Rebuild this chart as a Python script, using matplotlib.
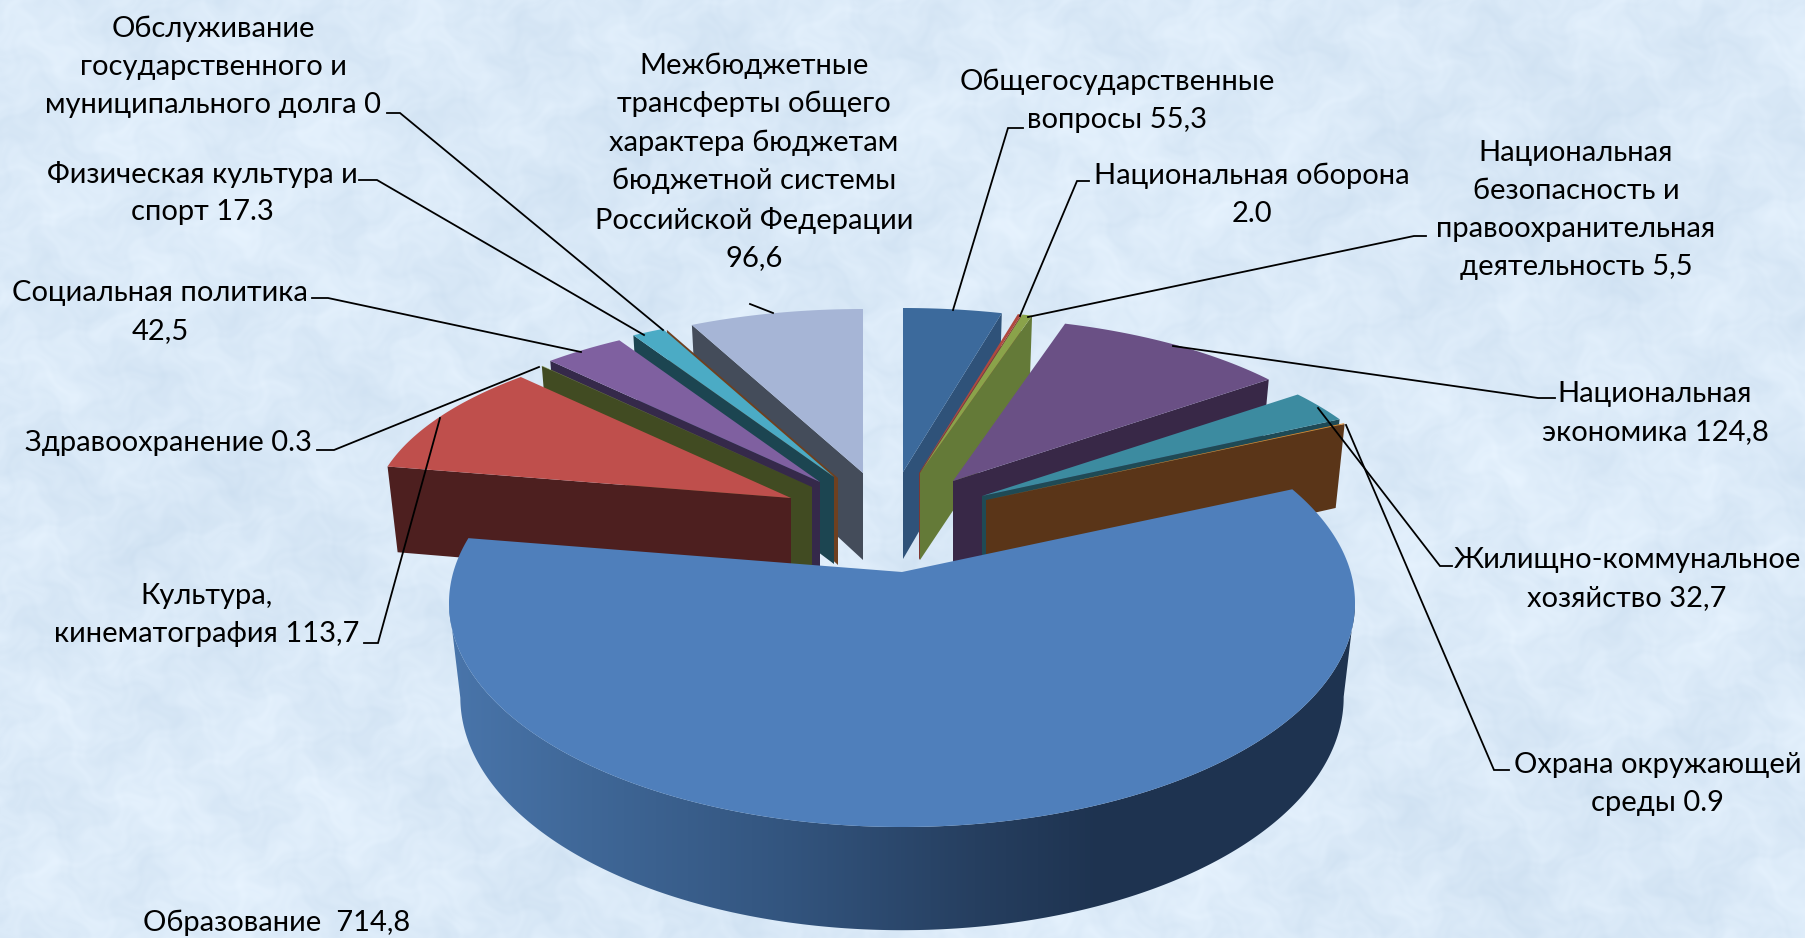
import matplotlib
matplotlib.use("Agg")
import matplotlib.pyplot as plt
from matplotlib.patches import Polygon
import numpy as np

plt.rcParams['font.family'] = ['Lato', 'Open Sans', 'DejaVu Sans']

values = [55.3, 2.0, 5.5, 124.8, 32.7, 0.9, 714.8, 113.7, 0.3, 42.5, 17.3, 0.0, 96.6]
labels = ["Общегосударственные\nвопросы 55,3",
          "Национальная оборона\n2.0",
          "Национальная\nбезопасность и\nправоохранительная\nдеятельность 5,5",
          "Национальная\nэкономика 124,8",
          "Жилищно-коммунальное\nхозяйство 32,7",
          "Охрана окружающей\nсреды 0.9",
          "Образование  714,8",
          "Культура,\nкинематография 113,7",
          "Здравоохранение 0.3",
          "Социальная политика\n42,5",
          "Физическая культура и\nспорт 17.3",
          "Обслуживание\nгосударственного и\nмуниципального долга 0",
          "Межбюджетные\nтрансферты общего\nхарактера бюджетам\nбюджетной системы\nРоссийской Федерации\n96,6"]

# styling of each slice, same order as values
top_colors = ['#3c6a9c', '#b0483f', '#8aa34a', '#6a5085', '#3c8ba0', '#e08a2d', '#4f7fbb',
              '#bf4f4c', '#8aa34a', '#7f60a0', '#4babc5', '#e08a2d', '#a6b5d6']
wall_colors = ['#2f5279', '#7e3733', '#647a38', '#382847', '#1f4a55', '#5a3518', '#2f5279',
               '#4d1f1f', '#414b22', '#35294a', '#1c4551', '#6e4020', '#444c5a']
apex = [(903, 472), (919, 473), (920, 473), (953, 481), (982, 496), (986, 500), (902, 572),
        (791, 498), (812, 487), (820, 482), (834, 477), (838, 478), (863, 473)]
label_pos = [(1117, 101), (1252, 195), (1576, 210), (1655, 413), (1627, 579), (1658, 784), (277, 923),
             (207, 615), (168, 443), (160, 312), (202, 193), (213, 67), (754, 162)]
leaders = [[(1023, 128), (1008, 128), (953, 310)],
           [(1089, 181), (1077, 181), (1020, 316)],
           [(1426, 236), (1414, 236), (1028, 317)],
           [(1173, 346), (1538, 398), (1555, 398)],
           [(1318, 408), (1440, 566), (1452, 566)],
           [(1346, 425), (1494, 770), (1509, 770)],
           [(364, 643), (378, 643), (440, 418)],
           [(317, 450), (334, 450), (539, 367)],
           [(312, 298), (328, 298), (581, 352)],
           [(359, 180), (377, 180), (644, 335)],
           [(387, 113), (400, 113), (663, 330)],
           [(750, 304), (773, 313)]]

BIG_RIM = (453.0, 224.0, 31.0)   # rx, ry, centre below the tip
BACK_RIM = (420.0, 183.5, 19.5)
ASPECT = 2.1
DEPTH = 87.0


def rim(theta, shape):
    # point on the ellipse seen from the tip, theta in degrees clockwise from 12
    rx, ry, off = shape
    t = np.radians(theta)
    dx, dy = ASPECT * np.sin(t), -np.cos(t)
    a = (dx / rx) ** 2 + (dy / ry) ** 2
    b = -2 * dy * off / ry ** 2
    c = (off / ry) ** 2 - 1
    r = (-b + np.sqrt(b * b - 4 * a * c)) / (2 * a)
    return r * dx, r * dy


def lower(x, y, ax0, ay0, d):
    return ax0 + (x - ax0) * .975, y + d + .04 * (y - ay0)


fig = plt.figure(figsize=(18.06, 9.38), dpi=100)
ax = fig.add_axes([0, 0, 1, 1])

# mottled paper background
yy, xx = np.mgrid[0:938, 0:1806]
wx = xx + 14 * np.sin(yy / 17.0) + 9 * np.sin(yy / 6.1 + xx / 29.0)
wy = yy + 14 * np.sin(xx / 21.0) + 9 * np.sin(xx / 7.3 - yy / 23.0)
tex = (np.sin(wx / 31.0) * np.sin(wy / 27.0)
       + .6 * np.sin(wx / 11.0) * np.sin(wy / 13.0)
       + .4 * np.sin(wx / 4.7) * np.sin(wy / 3.9)
       + .7 * np.sin(xx / 140.0) * np.sin(yy / 110.0))
bg = np.zeros((938, 1806, 3))
for i, c in enumerate((219, 234, 248)):
    bg[:, :, i] = (c + tex * (5 - i * 1.2)) / 255.0
ax.imshow(bg, extent=(0, 1806, 938, 0), aspect='auto', zorder=0)

angles = np.cumsum([0] + values) / sum(values) * 360

# back slices first, the big one last
order = [12, 11, 10, 9, 8, 7, 0, 1, 2, 3, 4, 5]
z = 2
for i in order:
    ax0, ay0 = apex[i]
    th = np.linspace(angles[i], angles[i + 1], 40)
    rx, ry = rim(th, BACK_RIM)
    px, py = ax0 + rx, ay0 + ry
    # side wall on the edge that faces the viewer
    e = -1 if i < 6 else 0
    bx, by = lower(px[e], py[e], ax0, ay0, DEPTH)
    ax.add_patch(Polygon([(ax0, ay0), (px[e], py[e]), (bx, by), (ax0, ay0 + DEPTH)],
                         closed=True, fc=wall_colors[i], ec='none', zorder=z))
    z += 1
    ax.add_patch(Polygon(list(zip([ax0] + list(px), [ay0] + list(py))),
                         closed=True, fc=top_colors[i], ec='none', zorder=z))
    z += 1

# education slice with shaded outer wall
ax0, ay0 = apex[6]
th = np.linspace(angles[6], angles[7], 400)
rx, ry = rim(th, BIG_RIM)
px, py = ax0 + rx, ay0 + ry
bx, by = lower(px, py, ax0, ay0, 93.0)
ir, il = np.argmax(px), np.argmin(px)
side = Polygon(list(zip(px[ir:il + 1], py[ir:il + 1])) + list(zip(bx[ir:il + 1][::-1], by[ir:il + 1][::-1])),
               closed=True, fc='none', ec='none')
ax.add_patch(side)
grad_x = np.arange(440, 1366)
stops_x = [440, 591, 783, 974, 1100, 1366]
stops = np.array([(0x4a, 0x76, 0xac), (0x3f, 0x67, 0x97), (0x33, 0x55, 0x7f),
                  (0x26, 0x3f, 0x60), (0x1e, 0x33, 0x50), (0x1e, 0x33, 0x50)]) / 255.0
grad = np.stack([np.interp(grad_x, stops_x, stops[:, k]) for k in range(3)], axis=1)[None, :, :]
im = ax.imshow(grad, extent=(440, 1366, 940, 480), aspect='auto', zorder=z)
im.set_clip_path(side)
z += 1
ax.add_patch(Polygon([(ax0, ay0)] + list(zip(px, py)), closed=True, fc=top_colors[6], ec='none', zorder=z))
z += 1

for pts in leaders:
    ax.plot([p[0] for p in pts], [p[1] for p in pts], color='black', lw=1.3, zorder=z, solid_joinstyle='miter')

for lab, (x, y) in zip(labels, label_pos):
    ax.text(x, y, lab, ha='center', va='center', fontsize=21, linespacing=1.56, color='black', zorder=z + 1)

ax.set_xlim(0, 1806)
ax.set_ylim(938, 0)
ax.axis('off')
fig.savefig('out.png', dpi=100)
